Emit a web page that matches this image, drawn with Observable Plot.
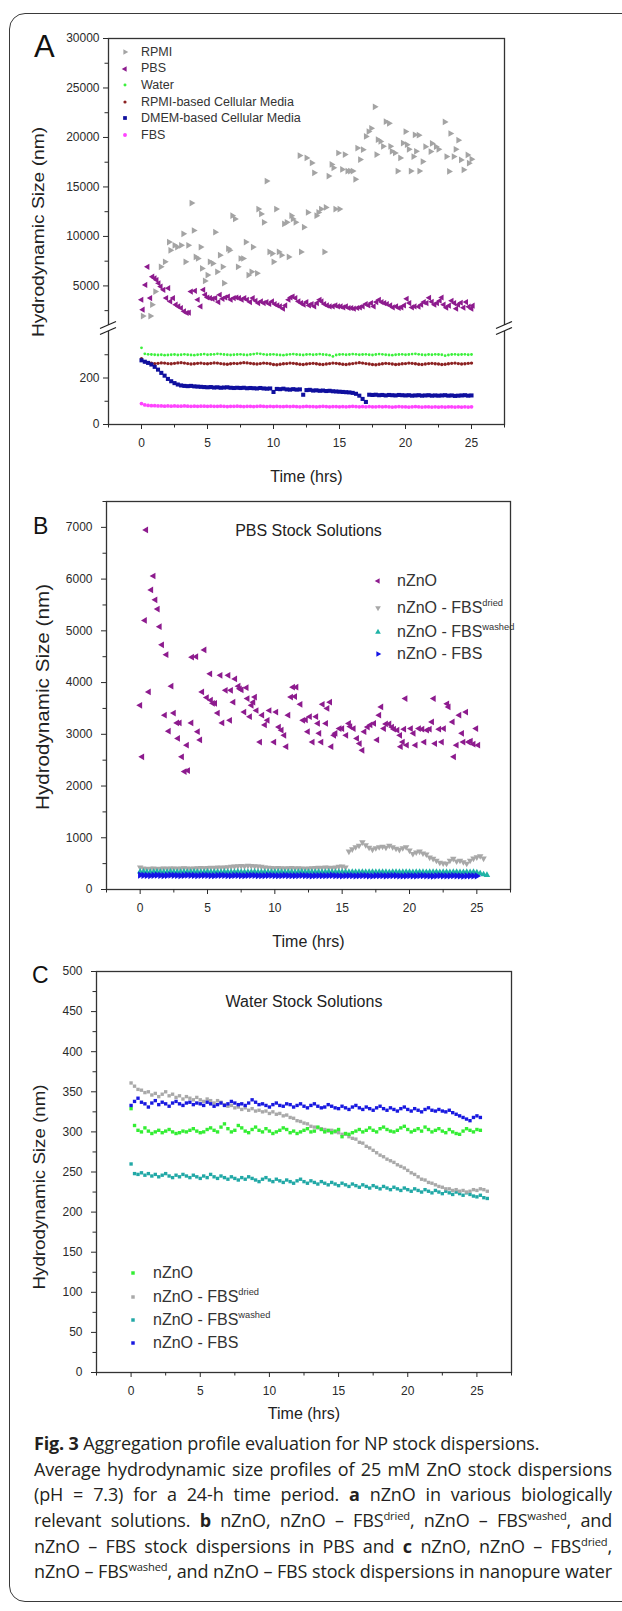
<!DOCTYPE html>
<html><head><meta charset="utf-8">
<script src="https://cdn.jsdelivr.net/npm/d3@7"></script>
<script src="https://cdn.jsdelivr.net/npm/@observablehq/plot@0.6"></script>
<style>
body{margin:0;background:#fff;}
#page{position:relative;width:622px;height:1611px;overflow:hidden;font-family:"Liberation Sans",Arial,sans-serif;color:#222;background:#fff;}
#frame{position:absolute;left:9px;top:13px;width:640px;height:1589px;border:1.5px solid #3a3a3a;border-radius:16px;box-sizing:border-box;}
.panel{position:absolute;left:0;width:622px;}
.panel svg{display:block;max-width:none !important;}
.plabel{position:absolute;line-height:1;color:#111;font-family:"Liberation Sans",Arial,sans-serif;}
.ylab{position:absolute;white-space:nowrap;line-height:1;color:#222;font-family:"Liberation Sans",Arial,sans-serif;transform-origin:50% 50%;}
.lrow{position:absolute;white-space:nowrap;display:flex;align-items:center;color:#333;font-family:"Liberation Sans",Arial,sans-serif;line-height:1;}
.lrow sup{font-size:58%;vertical-align:0.75em;line-height:0;}
#caption{position:absolute;left:34px;width:578px;font-family:"Open Sans",sans-serif;font-size:18px;letter-spacing:-0.15px;color:#231f20;}
#caption div{height:25.7px;line-height:25.7px;white-space:nowrap;}
#caption .j{text-align:justify;text-align-last:justify;}
#caption sup{font-size:62%;vertical-align:0.6em;line-height:0;}
</style></head>
<body>
<div id="page">
  <div id="frame"></div>
  <div class="panel" id="pA" style="top:0"></div>
  <div class="panel" id="pB" style="top:488px"></div>
  <div class="panel" id="pC" style="top:958px"></div>
  <div class="plabel" style="left:34px;top:31px;font-size:31px;">A</div>
  <div class="plabel" style="left:33px;top:515px;font-size:23px;">B</div>
  <div class="plabel" style="left:32px;top:964px;font-size:23px;">C</div>
  <div class="ylab" style="left:38.5px;top:232px;font-size:16px;transform:translate(-50%,-50%) rotate(-90deg) scaleX(1.2);">Hydrodynamic Size (nm)</div>
  <div class="ylab" style="left:43.5px;top:697px;font-size:17.5px;transform:translate(-50%,-50%) rotate(-90deg) scaleX(1.18);">Hydrodynamic Size (nm)</div>
  <div class="ylab" style="left:40px;top:1187px;font-size:16px;transform:translate(-50%,-50%) rotate(-90deg) scaleX(1.17);">Hydrodynamic Size (nm)</div>
  <div id="legends"></div>
  <div id="caption" style="top:1431px">
    <div><b>Fig. 3</b> Aggregation profile evaluation for NP stock dispersions.</div>
    <div class="j">Average hydrodynamic size profiles of 25 mM ZnO stock dispersions</div>
    <div class="j">(pH = 7.3) for a 24-h time period. <b>a</b> nZnO in various biologically</div>
    <div class="j">relevant solutions. <b>b</b> nZnO, nZnO – FBS<sup>dried</sup>, nZnO – FBS<sup>washed</sup>, and</div>
    <div class="j">nZnO – FBS stock dispersions in PBS and <b>c</b> nZnO, nZnO – FBS<sup>dried</sup>,</div>
    <div class="j">nZnO – FBS<sup>washed</sup>, and nZnO – FBS stock dispersions in nanopure water</div>
  </div>
</div>
<script>
// ---------- shared sampling times for the dense series (hrs) ----------
const tGrid = [
0,0.25,0.5,0.75,1,1.25,1.5,1.75,2,2.25,
2.5,2.75,3,3.25,3.5,3.75,4,4.25,4.5,4.75,
5,5.25,5.5,5.75,6,6.25,6.5,6.75,7,7.25,
7.5,7.75,8,8.25,8.5,8.75,9,9.25,9.5,9.75,
10,10.25,10.5,10.75,11,11.25,11.5,11.75,12,12.25,
12.5,12.75,13,13.25,13.5,13.75,14,14.25,14.5,14.75,
15,15.25,15.5,15.75,16,16.25,16.5,16.75,17,17.25,
17.5,17.75,18,18.25,18.5,18.75,19,19.25,19.5,19.75,
20,20.25,20.5,20.75,21,21.25,21.5,21.75,22,22.25,
22.5,22.75,23,23.25,23.5,23.75,24,24.25,24.5,24.75,
25,25.25,25.5,25.75];

// ---------- Panel A: nZnO in biologically relevant solutions ----------
const aRpmi = [[0.1,1950],[0.67,1950],[0.8,3100],[1.04,4430],[1.46,6930],[1.77,7430],[2.08,9430],[2.19,8600],[2.5,9100],[2.7,8930],[3.0,9100],[3.17,10270],[3.33,7430],[3.54,9100],[3.79,13370],[3.96,10600],[4.1,7930],[4.27,7770],[4.48,8930],[4.58,6770],[4.8,5500],[5.0,6100],[5.17,7430],[5.4,7270],[5.58,10430],[5.73,6430],[5.94,8100],[6.15,6930],[6.25,5270],[6.56,8770],[6.67,8600],[6.88,12100],[7.08,11770],[7.3,6930],[7.5,7770],[7.7,7770],[7.9,9430],[8.1,6100],[8.33,6430],[8.44,8930],[8.75,6270],[8.85,12770],[9.06,12270],[9.27,11430],[9.48,15600],[9.69,8430],[9.9,8270],[10.0,7430],[10.2,12770],[10.4,8430],[10.6,8100],[10.8,11270],[11.0,11430],[11.15,7930],[11.35,12100],[11.46,11770],[11.67,11430],[11.98,18170],[12.08,8430],[12.3,10930],[12.5,17930],[12.6,12430],[12.9,17430],[13.08,16430],[13.25,12100],[13.4,12430],[13.6,12770],[13.85,8430],[13.96,12930],[14.17,16100],[14.4,17270],[14.54,16930],[14.69,12770],[14.9,18430],[15.0,12770],[15.2,16770],[15.4,18270],[15.6,16600],[15.8,16600],[16.0,16600],[16.2,15770],[16.35,18930],[16.56,17770],[16.77,18770],[17.0,20100],[17.2,20600],[17.4,20930],[17.67,23100],[17.8,18270],[17.9,19770],[18.1,19600],[18.3,19100],[18.5,21600],[18.75,21430],[18.85,19100],[18.96,18600],[19.2,18430],[19.4,16600],[19.6,17930],[19.8,19430],[20.0,20600],[20.1,19270],[20.25,18800],[20.4,16600],[20.6,18070],[20.7,20270],[20.8,18600],[21.0,20230],[21.05,16600],[21.3,17570],[21.5,19070],[21.9,18570],[22.0,19400],[22.3,19070],[22.5,18800],[22.97,21570],[23.1,18070],[23.3,16570],[23.4,20400],[23.65,18070],[23.8,18800],[24.0,19730],[24.2,17730],[24.4,16730],[24.7,18230],[24.8,17400],[25.0,17800]];
const aPbs = [[0,3600],[0.1,2600],[0.3,5100],[0.46,6930],[0.67,3770],[0.83,5930],[1.0,5770],[1.15,5600],[1.3,5270],[1.46,4930],[1.67,4600],[1.88,3770],[2.04,4770],[2.19,3430],[2.4,3770],[2.6,3100],[2.8,2930],[3.0,2770],[3.23,2430],[3.44,2270],[3.6,2300],[3.75,4430],[4.06,4500],[4.27,3600],[4.48,2930],[4.69,4600],[4.83,4100],[5.0,3830],[5.2,3770],[5.4,3700],[5.6,3770],[5.83,3370],[5.94,4100],[6.15,3700],[6.35,3830],[6.56,3930],[6.77,3600],[7.0,3770],[7.2,3830],[7.4,3770],[7.6,3600],[7.8,3770],[8.0,3600],[8.23,3370],[8.44,3770],[8.65,3500],[8.85,3270],[9.06,3430],[9.27,3270],[9.48,3370],[9.69,3170],[9.9,3430],[10.1,3170],[10.3,3030],[10.5,2930],[10.73,2700],[10.9,3030],[11.15,3600],[11.3,3830],[11.46,3930],[11.67,3770],[11.9,3430],[12.1,3270],[12.3,3100],[12.5,3370],[12.7,3030],[12.9,3170],[13.1,2930],[13.3,3270],[13.5,3600],[13.65,3430],[13.85,3170],[14.06,3030],[14.27,2930],[14.5,2930],[14.7,3030],[14.9,2930],[15.1,2930],[15.3,2830],[15.5,2930],[15.7,2770],[15.9,2770],[16.1,2700],[16.35,2770],[16.56,2830],[16.77,2930],[17.0,3170],[17.2,3030],[17.4,3270],[17.6,2930],[17.8,3370],[18.0,3600],[18.2,3370],[18.4,3270],[18.6,3170],[18.85,3030],[19.05,2830],[19.3,2930],[19.5,2770],[19.7,2830],[19.9,3030],[20.1,3700],[20.3,3270],[20.5,2830],[20.7,2930],[21.0,2900],[21.2,3100],[21.4,3370],[21.6,3270],[21.8,3800],[22.0,3400],[22.2,3100],[22.4,3270],[22.6,3500],[22.75,3830],[22.9,3100],[23.1,2800],[23.3,3000],[23.5,3500],[23.7,3270],[23.85,2700],[24.0,3100],[24.2,3300],[24.4,2800],[24.6,3370],[24.8,2900],[25.0,2700],[25.1,3000]];
const aWater = [
330,304,302,301,300,299,300,298,299,300,
301,299,300,302,300,299,298,300,301,303,
300,301,302,304,303,301,300,299,300,301,
302,300,299,301,303,305,304,302,300,301,
302,300,299,298,300,302,303,301,300,299,
301,302,300,301,303,301,300,298,293,299,
301,302,300,301,303,302,300,301,302,300,
299,301,303,302,300,299,298,300,301,302,
300,301,303,304,302,300,299,301,300,302,
301,300,296,299,301,302,300,301,302,300,
301];
const aRpmiMedia = [
283,270,266,264,262,263,265,264,262,261,
263,265,266,264,262,260,261,263,264,262,
261,263,265,264,262,260,259,261,263,262,
264,266,265,263,261,260,262,264,263,261,
258,257,259,261,262,264,263,261,259,258,
260,262,263,261,259,258,260,262,264,263,
261,259,258,260,262,264,266,264,262,260,
258,257,259,261,263,262,260,258,259,261,
262,264,263,261,259,258,260,262,263,261,
260,258,259,261,263,264,262,260,261,263,
264];
const aDmem = [
276,270,265,258,248,236,222,210,196,186,
178,172,168,166,165,166,164,163,162,161,
160,161,159,160,158,159,160,158,157,158,
157,158,156,157,156,155,157,155,154,155,
140,153,152,154,151,150,152,150,151,128,
148,149,146,147,145,146,144,145,143,142,
141,140,139,138,136,132,124,110,97,128,
127,128,126,127,125,127,126,125,127,126,
125,126,124,125,126,124,125,126,124,125,
124,125,126,124,125,123,124,125,126,124,
125];
const aFbs = [
90,84,82,81,81,80,80,79,80,79,
80,79,79,80,79,78,79,78,79,79,
78,79,78,78,79,78,77,78,78,79,
78,77,78,78,77,78,79,78,77,78,
77,78,77,77,78,77,78,77,76,77,
78,77,77,76,77,78,77,76,77,77,
76,77,76,77,78,77,76,77,76,77,
76,76,77,76,77,76,75,76,77,76,
76,75,76,77,76,75,76,76,75,76,
75,76,75,76,76,75,76,75,76,75,
76];
const aNames = ["RPMI","PBS","Water","RPMI-based Cellular Media","DMEM-based Cellular Media","FBS"];
const aColors = ["#a4a4a4","#8d1b8e","#3cf03c","#8c2222","#0f0f9e","#ff44ff"];
const aYMajor = [0,200,5000,10000,15000,20000,25000,30000];
const aYMinor = [100,300,2500,7500,12500,17500,22500,27500];

// ---------- Panel B: PBS stock solutions ----------
const bZno = [[0,3560],[0.15,2565],[0.35,5200],[0.44,6950],[0.64,3820],[0.82,5790],[0.99,6060],[1.13,5600],[1.3,5420],[1.45,5080],[1.62,4730],[1.83,3370],[1.95,4540],[2.12,3060],[2.32,3930],[2.5,3410],[2.74,3220],[2.81,2920],[2.93,3220],[3.1,2565],[3.3,2280],[3.47,2790],[3.55,2300],[3.8,3220],[3.85,4490],[4.16,4500],[4.28,3050],[4.45,2890],[4.6,3820],[4.77,4630],[4.95,3710],[5.2,4170],[5.25,3660],[5.4,3600],[5.56,3600],[5.76,3410],[5.96,4140],[6.1,3220],[6.35,3850],[6.55,4140],[6.67,3270],[6.74,3850],[6.92,3620],[7.05,4070],[7.3,3930],[7.4,3880],[7.53,3860],[7.73,3430],[7.9,3900],[7.97,3690],[8.15,3340],[8.27,3560],[8.4,3620],[8.52,3720],[8.64,3460],[8.9,2850],[9.06,3370],[9.26,3180],[9.46,3270],[9.6,3460],[9.95,2850],[10.1,3430],[10.3,3140],[10.5,3080],[10.7,2980],[10.85,2760],[11.0,3370],[11.2,3720],[11.35,3910],[11.5,3730],[11.6,3910],[11.9,3580],[12.1,3270],[12.3,3280],[12.45,3050],[12.6,3340],[12.8,2850],[13.07,3340],[13.2,3210],[13.3,3020],[13.45,2850],[13.55,3580],[13.8,3210],[13.9,3500],[14.1,3620],[14.2,2760],[14.4,2980],[14.5,3020],[14.8,3110],[15.0,3110],[15.3,2980],[15.5,3210],[15.6,3150],[15.85,3110],[16.1,2920],[16.3,2820],[16.5,2690],[16.65,3050],[16.9,3140],[17.1,3180],[17.37,3210],[17.6,2890],[17.75,3370],[17.9,3530],[18.1,3110],[18.25,3200],[18.5,3200],[18.7,3140],[18.85,3100],[19.1,3080],[19.3,2980],[19.35,2760],[19.5,2850],[19.6,3100],[19.7,3690],[19.8,2790],[20.1,3110],[20.3,3020],[20.45,2790],[20.7,3110],[20.95,3100],[21.1,2850],[21.3,3080],[21.5,3100],[21.67,3240],[21.8,3690],[21.9,2820],[22.2,3100],[22.4,2850],[22.55,3110],[22.8,3590],[22.9,3530],[23.2,3240],[23.3,2565],[23.5,2790],[23.7,3370],[23.9,3020],[24.0,2850],[24.2,3430],[24.4,2850],[24.55,2870],[24.75,2810],[24.95,3110],[25.1,2790]];
const bDried = [
430,410,400,405,410,400,405,410,405,410,
410,405,410,415,410,405,410,415,420,415,
420,425,420,430,425,430,435,440,445,450,
455,450,460,455,450,445,440,430,425,420,
415,420,415,410,415,420,410,415,410,405,
410,415,420,425,420,430,425,420,430,440,
445,430,735,780,820,850,915,860,810,775,
800,820,830,810,850,820,790,770,800,820,
755,690,720,735,700,680,620,595,560,520,
505,500,560,595,545,560,530,500,560,600,
625,645,600];
const bWashed = [
345,342,340,338,341,343,340,338,341,344,
341,338,340,342,339,341,343,340,338,340,
342,339,341,340,338,342,340,339,341,343,
340,338,341,339,342,340,338,340,341,339,
340,342,339,337,340,341,338,340,342,339,
338,340,341,339,337,340,342,340,338,339,
341,339,338,340,337,339,341,338,340,339,
337,339,340,338,336,339,340,338,337,339,
338,336,338,340,337,336,338,339,337,336,
338,337,335,337,338,336,335,337,336,338,
330,310,290,280];
const bFbs = [
280,275,272,270,274,276,272,270,273,277,
274,271,270,273,276,274,271,269,272,275,
273,270,268,271,274,272,270,268,271,273,
270,268,271,274,272,269,267,270,273,271,
269,267,270,272,270,268,266,269,271,269,
267,265,268,270,268,266,269,271,268,266,
264,267,269,267,265,268,270,267,265,263,
266,268,266,264,267,269,266,264,262,265,
267,265,263,266,268,265,263,261,264,266,
264,262,265,267,264,262,260,263,265,263,
262];
const bNames = ["nZnO","nZnO - FBS<sup>dried</sup>","nZnO - FBS<sup>washed</sup>","nZnO - FBS"];
const bColors = ["#8d1b8e","#a8a8a8","#1fb3a6","#1414e6"];
const bYMajor = [0,1000,2000,3000,4000,5000,6000,7000];
const bYMinor = [500,1500,2500,3500,4500,5500,6500,7500];

// ---------- Panel C: Water stock solutions ----------
const cZno = [
329,308,302,300,305,301,298,300,302,299,
301,303,300,298,299,301,300,302,304,301,
299,300,303,305,302,300,306,310,304,300,
302,308,305,301,299,303,306,302,300,304,
301,298,300,302,305,303,299,301,298,300,
302,304,300,301,306,303,300,302,299,301,
303,294,298,297,299,301,303,300,302,305,
302,300,304,306,303,301,300,302,305,307,
303,300,302,304,301,306,303,300,302,304,
301,299,303,300,298,297,301,304,302,300,
303,302];
const cDried = [
361,357,353,352,349,350,346,348,344,347,
350,345,347,343,345,341,344,342,340,343,
340,338,341,339,336,339,337,334,332,333,
330,331,328,330,327,329,326,327,325,326,
323,325,322,323,320,321,318,317,314,313,
311,310,307,306,305,304,303,301,302,300,
299,297,297,294,292,291,287,286,282,280,
277,274,271,269,266,264,262,259,257,255,
252,249,247,244,241,240,237,236,234,232,
231,229,229,227,228,226,227,225,226,228,
227,229,228,226];
const cWashed = [
260,248,247,249,246,248,245,247,244,246,
248,245,243,246,244,247,245,243,246,244,
242,245,243,247,244,242,245,243,241,244,
242,240,243,241,244,242,240,238,241,243,
240,238,241,239,237,240,238,236,239,241,
238,236,239,237,235,238,236,234,237,235,
233,236,234,232,235,233,231,234,232,230,
233,231,229,232,230,228,231,229,227,230,
228,226,229,227,225,228,226,224,227,225,
223,226,224,222,225,223,221,224,222,220,
219,221,218,217];
const cFbs = [
333,338,342,337,335,331,336,339,334,337,
335,332,336,338,335,333,336,337,334,336,
335,333,337,335,332,334,336,333,335,338,
336,334,335,333,336,340,337,334,335,333,
331,334,336,333,332,335,334,331,333,335,
332,330,333,335,332,330,331,334,332,330,
329,332,330,328,331,333,330,328,331,329,
327,330,332,329,327,330,328,326,329,331,
328,326,329,327,325,328,330,327,326,328,
326,325,327,324,322,320,318,316,314,318,
320,318];
const cNames = ["nZnO","nZnO - FBS<sup>dried</sup>","nZnO - FBS<sup>washed</sup>","nZnO - FBS"];
const cColors = ["#33ee33","#a9a9a9","#21a8a6","#1818e0"];
const cYMajor = [0,50,100,150,200,250,300,350,400,450,500];
const cYMinor = [25,75,125,175,225,275,325,375,425,475];

const xMajor = [0,5,10,15,20,25];
const xMinor = [-2.5,2.5,7.5,12.5,17.5,22.5,27.5];

// ---------- helpers ----------
const dense = vals => vals.map((v, i) => ({t: tGrid[i], v}));
const pts = arr => arr.map(([t, v]) => ({t, v}));
const FONT = "'Liberation Sans', Arial, sans-serif";

function axes({yMajor, yMinor, ytickPad, xlabelOff}) {
  return [
    Plot.frame({stroke: "#333", strokeWidth: 1.3}),
    Plot.axisX({ticks: xMajor, tickSize: 5, tickPadding: 9, tickFormat: d3.format("d"),
      label: "Time (hrs)", labelAnchor: "center", labelOffset: xlabelOff, labelArrow: false}),
    Plot.axisX({ticks: xMinor, tickSize: 3.5, tickFormat: () => "", label: null}),
    Plot.axisY({ticks: yMajor, tickSize: 5, tickPadding: ytickPad, tickFormat: d3.format("d"), label: null}),
    Plot.axisY({ticks: yMinor, tickSize: 3.5, tickFormat: () => "", label: null})
  ];
}
function styleSvg(svg) {
  d3.select(svg).selectAll('g[aria-label="x-axis label"]').attr("font-size", 16).attr("fill", "#222");
  return svg;
}
const baseStyle = {background: "transparent", fontFamily: FONT, fontSize: "12px", color: "#2a2a2a", overflow: "visible"};

// ---------- Panel A ----------
const plotA = Plot.plot({
  width: 622, height: 488,
  marginLeft: 108, marginRight: 118, marginTop: 38, marginBottom: 64,
  style: baseStyle,
  x: {domain: [-2.5, 27.5]},
  y: {type: "linear", domain: [0, 400, 1000, 30000], range: [424, 331, 325, 38]},
  marks: [
    ...axes({yMajor: aYMajor, yMinor: aYMinor, ytickPad: 4, xlabelOff: 57}),
    Plot.dot(pts(aRpmi), {x: "t", y: "v", symbol: "triangle", rotate: 90, r: 2.5, fill: aColors[0], stroke: "none"}),
    Plot.dot(pts(aPbs), {x: "t", y: "v", symbol: "triangle", rotate: -90, r: 2.3, fill: aColors[1], stroke: "none"}),
    Plot.dot(dense(aRpmiMedia), {x: "t", y: "v", symbol: "circle", r: 1.7, fill: aColors[3], stroke: "none"}),
    Plot.dot(dense(aWater), {x: "t", y: "v", symbol: "circle", r: 1.4, fill: aColors[2], stroke: "none"}),
    Plot.dot(dense(aDmem), {x: "t", y: "v", symbol: "square", r: 2.3, fill: aColors[4], stroke: "none"}),
    Plot.dot(dense(aFbs), {x: "t", y: "v", symbol: "circle", r: 1.9, fill: aColors[5], stroke: "none"})
  ]
});
styleSvg(plotA);
{
  const sy = plotA.scale("y"), sx = plotA.scale("x");
  const y1 = sy.apply(400), y2 = sy.apply(1000);
  const g = d3.select(plotA).append("g");
  for (const xe of sx.range) {
    g.append("rect").attr("x", xe - 4).attr("y", y2).attr("width", 8).attr("height", y1 - y2).attr("fill", "white");
    for (const yy of [y1, y2]) {
      g.append("line").attr("x1", xe - 8).attr("y1", yy + 3.5).attr("x2", xe + 8).attr("y2", yy - 3.5)
        .attr("stroke", "#222").attr("stroke-width", 1.3);
    }
  }
}
document.getElementById("pA").appendChild(plotA);

// ---------- Panel B ----------
const plotB = Plot.plot({
  width: 622, height: 470,
  marginLeft: 106, marginRight: 112, marginTop: 13, marginBottom: 69,
  style: baseStyle,
  x: {domain: [-2.5, 27.5]},
  y: {domain: [0, 7500]},
  marks: [
    ...axes({yMajor: bYMajor, yMinor: bYMinor, ytickPad: 9, xlabelOff: 57}),
    Plot.text(["PBS Stock Solutions"], {frameAnchor: "top", dy: 23, fontSize: 16, fill: "#222"}),
    Plot.dot(dense(bDried), {x: "t", y: "v", symbol: "triangle", rotate: 180, r: 2.4, fill: bColors[1], stroke: "none"}),
    Plot.dot(dense(bWashed), {x: "t", y: "v", symbol: "triangle", r: 2.4, fill: bColors[2], stroke: "none"}),
    Plot.dot(dense(bFbs), {x: "t", y: "v", symbol: "triangle", rotate: 90, r: 2.7, fill: bColors[3], stroke: "none"}),
    Plot.dot(pts(bZno), {x: "t", y: "v", symbol: "triangle", rotate: -90, r: 2.5, fill: bColors[0], stroke: "none"})
  ]
});
styleSvg(plotB);
document.getElementById("pB").appendChild(plotB);

// ---------- Panel C ----------
const plotC = Plot.plot({
  width: 622, height: 474,
  marginLeft: 96, marginRight: 111, marginTop: 13, marginBottom: 60,
  style: baseStyle,
  x: {domain: [-2.5, 27.5]},
  y: {domain: [0, 500]},
  marks: [
    ...axes({yMajor: cYMajor, yMinor: cYMinor, ytickPad: 9, xlabelOff: 46}),
    Plot.text(["Water Stock Solutions"], {frameAnchor: "top", dy: 24, fontSize: 16, fill: "#222"}),
    Plot.dot(dense(cWashed), {x: "t", y: "v", symbol: "square", r: 1.9, fill: cColors[2], stroke: "none"}),
    Plot.dot(dense(cDried), {x: "t", y: "v", symbol: "square", r: 1.9, fill: cColors[1], stroke: "none"}),
    Plot.dot(dense(cZno), {x: "t", y: "v", symbol: "square", r: 1.9, fill: cColors[0], stroke: "none"}),
    Plot.dot(dense(cFbs), {x: "t", y: "v", symbol: "square", r: 1.9, fill: cColors[3], stroke: "none"})
  ]
});
styleSvg(plotC);
document.getElementById("pC").appendChild(plotC);

// ---------- Legends (HTML, to allow superscripts) ----------
function marker(sym, color, area, rot) {
  const p = d3.symbol(sym, area)();
  return `<svg width="14" height="14" viewBox="-7 -7 14 14" style="overflow:visible;flex:none"><path d="${p}" fill="${color}" transform="rotate(${rot || 0})"/></svg>`;
}
function legend(names, colors, syms, {mx, tx, ys, size}) {
  const host = document.getElementById("legends");
  names.forEach((n, i) => {
    const [sym, area, rot] = syms[i];
    const div = document.createElement("div");
    div.className = "lrow";
    div.style.left = (mx - 7) + "px";
    div.style.top = (ys[i] - 7) + "px";
    div.style.height = "14px";
    div.style.fontSize = size + "px";
    div.innerHTML = marker(sym, colors[i], area, rot) + `<span style="margin-left:${tx - mx - 7}px">${n}</span>`;
    host.appendChild(div);
  });
}
legend(aNames, aColors, [
  [d3.symbolTriangle, 14, 90], [d3.symbolTriangle, 14, -90], [d3.symbolCircle, 7, 0],
  [d3.symbolCircle, 8, 0], [d3.symbolSquare, 14, 0], [d3.symbolCircle, 12, 0]
], {mx: 125, tx: 141, ys: [52, 68.6, 85.2, 101.8, 118.4, 135], size: 12.5});
legend(bNames, bColors, [
  [d3.symbolTriangle, 14, -90], [d3.symbolTriangle, 14, 180], [d3.symbolTriangle, 14, 0], [d3.symbolTriangle, 14, 90]
], {mx: 378, tx: 397, ys: [581, 607.5, 632, 653.5], size: 16});
legend(cNames, cColors, [
  [d3.symbolSquare, 12, 0], [d3.symbolSquare, 12, 0], [d3.symbolSquare, 12, 0], [d3.symbolSquare, 12, 0]
], {mx: 133, tx: 153, ys: [1272.5, 1296.5, 1320, 1343], size: 16});
</script>
</body></html>
